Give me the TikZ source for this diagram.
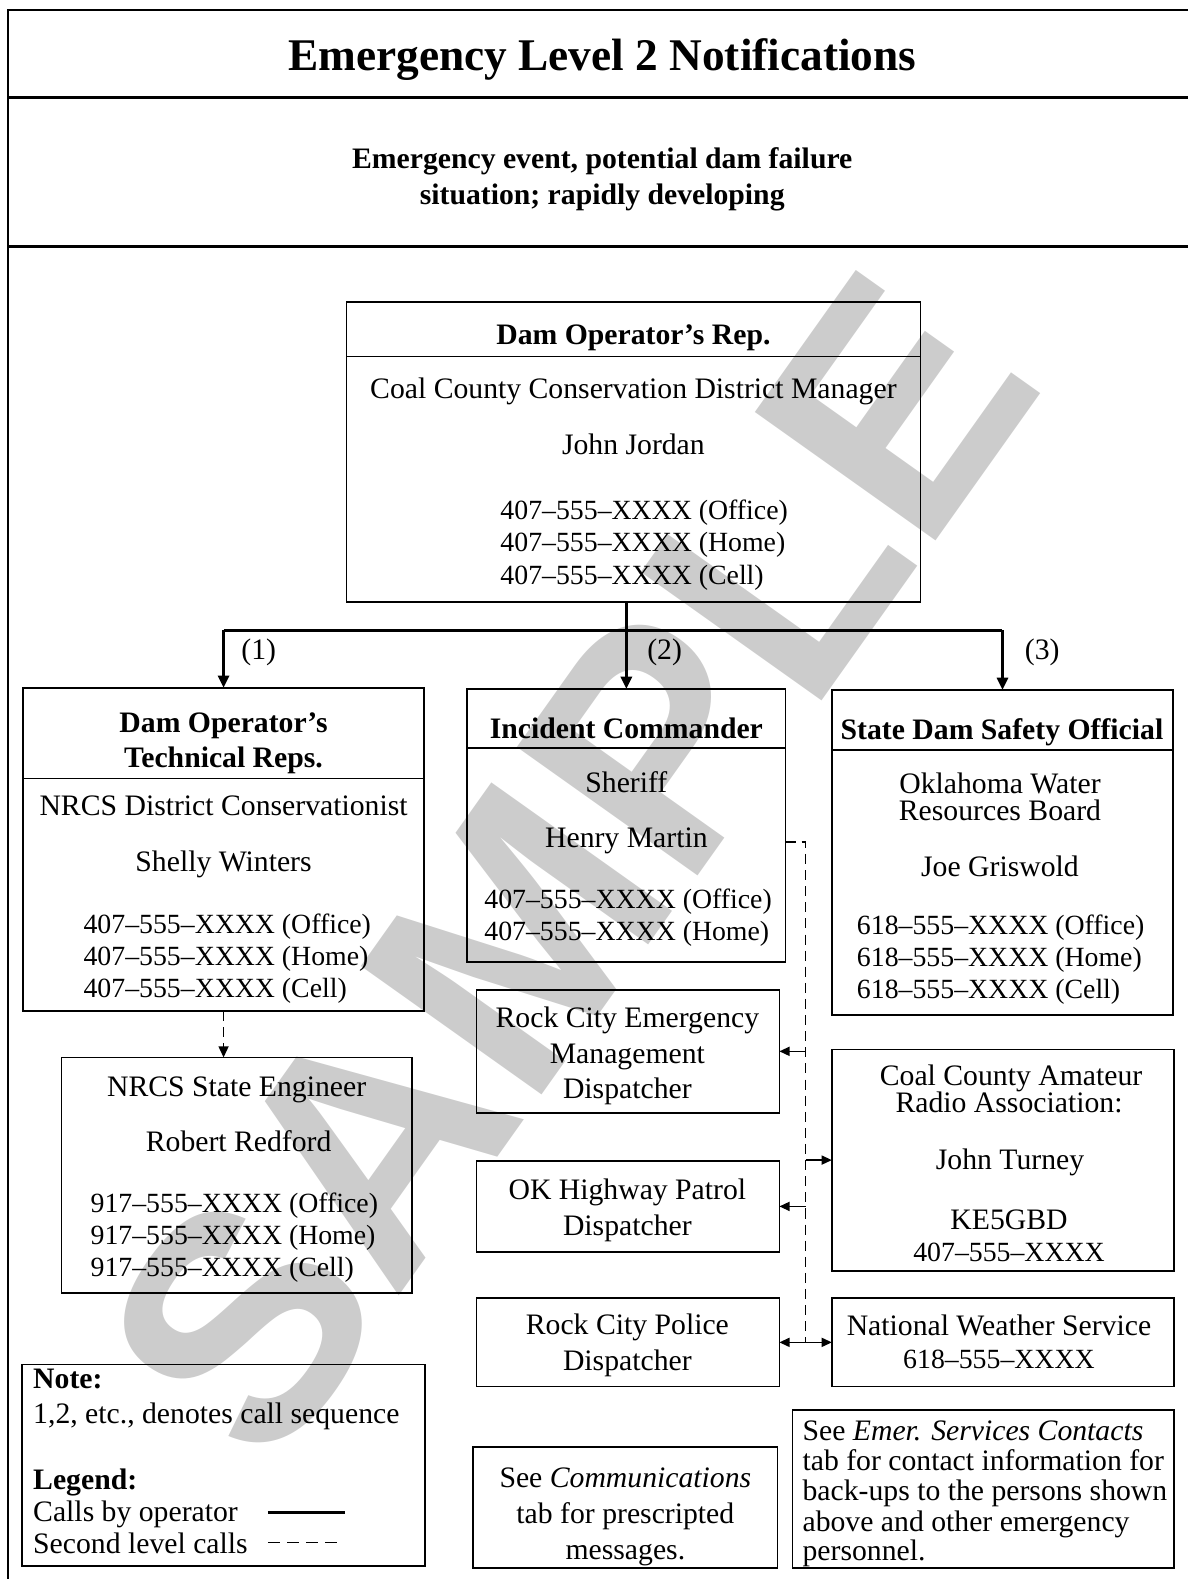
\documentclass[tikz,border=0pt]{standalone}
\usepackage{fontspec}
\setmainfont{Liberation Serif}
\newfontfamily\markfont{Liberation Sans}
\usetikzlibrary{arrows.meta}

% a box from its corners: name, x1, y1, x2, y2
\newcommand\boxat[5]{%
  \node[box, minimum width={(#4-#2)*1pt}, minimum height={(#5-#3)*1pt}]
    (#1) at ({(#2+#4)/2},{(#3+#5)/2}) {};}

\tikzset{
  every node/.style={inner sep=0pt, outer sep=0pt},
  box/.style={draw, line width=1.6pt, rectangle},
  body/.style={font=\fontsize{29.5}{32}\selectfont},
  txt/.style={body, anchor=base},
  ltxt/.style={body, anchor=base west},
  phone/.style={anchor=base west, font=\fontsize{27.6}{32}\selectfont},
  cphone/.style={anchor=base, font=\fontsize{27.6}{32}\selectfont},
  head/.style={anchor=base, font=\fontsize{29.5}{32}\selectfont\bfseries},
  lhead/.style={anchor=base west, font=\fontsize{29.5}{32}\selectfont\bfseries},
  rule/.style={line width=1.6pt},
  frame/.style={line width=2.6pt},
  calltip/.style={-{Triangle[length=12pt,width=11pt]}},
  call/.style={line width=2.6pt},
  second/.style={line width=1.4pt, dash pattern=on 10pt off 6pt},
  stub/.style={line width=1.3pt, -{Triangle[length=10pt,width=9pt]}},
}

\begin{document}
\begin{tikzpicture}[x=1pt, y=-1pt]
\useasboundingbox (0,0) rectangle (1180,1568);

% watermark
\node[font=\fontsize{320}{320}\selectfont\markfont\bfseries, text=black!20,
      rotate=54.6] (mark) at (565,860) {SAMPLE};

% page frame
\draw[frame] (8,1568) -- (8,10) -- (1180,10);
\draw[frame] (8,97) -- (1180,97);
\draw[frame] (8,245) -- (1180,245);

\node[anchor=base, font=\fontsize{45}{50}\selectfont\bfseries] (title) at (598,70)
  {Emergency Level 2 Notifications};
\node[head] (sub1) at (598,167) {Emergency event, potential dam failure};
\node[head] (sub2) at (598,203) {situation; rapidly developing};

% boxes
\boxat{top}{344}{300}{914}{598}
\boxat{tech}{23}{683}{421}{1004}
\boxat{eng}{61}{1050}{409}{1284}
\boxat{inc}{464}{684}{780}{955}
\boxat{em}{473}{983}{774}{1105}
\boxat{hp}{473}{1153}{774}{1243}
\boxat{police}{473}{1289}{774}{1377}
\boxat{state}{826}{685}{1165}{1008}
\boxat{ham}{826}{1042}{1166}{1262}
\boxat{nws}{826}{1289}{1166}{1377}
\boxat{note}{22}{1355}{422}{1555}
\boxat{comm}{470}{1437}{772}{1557}
\boxat{emer}{787}{1400}{1166}{1557}

% header dividers
\draw[rule] ([yshift=-54pt]top.north west) -- ([yshift=-54pt]top.north east);
\draw[rule] ([yshift=-90pt]tech.north west) -- ([yshift=-90pt]tech.north east);
\draw[rule] ([yshift=-59pt]inc.north west) -- ([yshift=-59pt]inc.north east);
\draw[rule] ([yshift=-60pt]state.north west) -- ([yshift=-60pt]state.north east);

% Dam Operator's Rep.
\node[head] (topH) at (629,342) {Dam Operator’s Rep.};
\node[txt] (topA) at (629,396) {Coal County Conservation District Manager};
\node[txt] (topB) at (629,451) {John Jordan};
\node[phone] (topC) at (497,516) {407–555–XXXX (Office)};
\node[phone] (topD) at (497,548) {407–555–XXXX (Home)};
\node[phone] (topE) at (497,580) {407–555–XXXX (Cell)};

% Technical reps
\node[head] (techH1) at (222,727) {Dam Operator’s};
\node[head] (techH2) at (222,762) {Technical Reps.};
\node[txt] (techA) at (222,810) {NRCS District Conservationist};
\node[txt] (techB) at (222,865) {Shelly Winters};
\node[phone] (techC) at (83,927) {407–555–XXXX (Office)};
\node[phone] (techD) at (83,959) {407–555–XXXX (Home)};
\node[phone] (techE) at (83,991) {407–555–XXXX (Cell)};

% State engineer
\node[txt] (engA) at (235,1089) {NRCS State Engineer};
\node[txt] (engB) at (237,1143) {Robert Redford};
\node[phone] (engC) at (90,1204) {917–555–XXXX (Office)};
\node[phone] (engD) at (90,1236) {917–555–XXXX (Home)};
\node[phone] (engE) at (90,1268) {917–555–XXXX (Cell)};

% Incident commander
\node[head] (incH) at (622,733) {Incident Commander};
\node[txt] (incA) at (622,787) {Sheriff};
\node[txt] (incB) at (622,842) {Henry Martin};
\node[phone] (incC) at (481,902) {407–555–XXXX (Office)};
\node[phone] (incD) at (481,934) {407–555–XXXX (Home)};

% dispatchers
\node[txt] (emA) at (623,1020) {Rock City Emergency};
\node[txt] (emB) at (623,1056) {Management};
\node[txt] (emC) at (623,1091) {Dispatcher};
\node[txt] (hpA) at (623,1191) {OK Highway Patrol};
\node[txt] (hpB) at (623,1227) {Dispatcher};
\node[txt] (polA) at (623,1325) {Rock City Police};
\node[txt] (polB) at (623,1361) {Dispatcher};

% State dam safety official
\node[head] (stateH) at (995,734) {State Dam Safety Official};
\node[txt] (stateA) at (993,788) {Oklahoma Water};
\node[txt] (stateB) at (993,815) {Resources Board};
\node[txt] (stateC) at (993,870) {Joe Griswold};
\node[phone] (stateD) at (851,928) {618–555–XXXX (Office)};
\node[phone] (stateE) at (851,960) {618–555–XXXX (Home)};
\node[phone] (stateF) at (851,992) {618–555–XXXX (Cell)};

% amateur radio
\node[txt] (hamA) at (1004,1078) {Coal County Amateur};
\node[txt] (hamB) at (1002,1105) {Radio Association:};
\node[txt] (hamC) at (1003,1161) {John Turney};
\node[txt] (hamD) at (1002,1221) {KE5GBD};
\node[cphone] (hamE) at (1002,1253) {407–555–XXXX};

% weather service
\node[txt] (nwsA) at (992,1326) {National Weather Service};
\node[cphone] (nwsB) at (992,1359) {618–555–XXXX};

% note and legend
\node[lhead] (noteH) at (33,1379) {Note:};
\node[ltxt] (noteA) at (33,1414) {1,2, etc., denotes call sequence};
\node[lhead] (legH) at (33,1479) {Legend:};
\node[ltxt] (legA) at (33,1511) {Calls by operator};
\node[ltxt] (legB) at (33,1543) {Second level calls};
\draw[call] (266,1502) -- (343,1502);
\draw[second, dash pattern=on 12pt off 7pt] (266,1532) -- (335,1532);

% reference notes
\node[txt] (commA) at (621,1477) {See \textit{Communications}};
\node[txt] (commB) at (621,1513) {tab for prescripted};
\node[txt] (commC) at (621,1549) {messages.};
\node[ltxt] (emerA) at (797,1430) {See \textit{Emer. Services Contacts}};
\node[ltxt] (emerB) at (797,1460) {tab for contact information for};
\node[ltxt] (emerC) at (797,1490) {back-ups to the persons shown};
\node[ltxt] (emerD) at (797,1521) {above and other emergency};
\node[ltxt] (emerE) at (797,1550) {personnel.};

% first level calls
\coordinate (bus) at (623,626);
\draw[call, calltip] (inc.north |- top.south) -- (inc.north);
\draw[call] (tech.north |- bus) -- (state.north |- bus);
\draw[call, calltip] (tech.north |- bus) -- (tech.north);
\draw[call, calltip] (state.north |- bus) -- (state.north);
\node[txt] (seq1) at (257,655) {(1)};
\node[txt] (seq2) at (660,655) {(2)};
\node[txt] (seq3) at (1035,655) {(3)};

% second level calls
\draw[second, -{Triangle[length=11pt,width=10pt]}] (tech.south) -- (tech.south |- eng.north);
\coordinate (trunk) at (800,836);
\coordinate (trunkend) at (800,1333);
\draw[second] (inc.east |- trunk) -- (trunk) -- (trunkend);
\draw[stub] (trunk |- em.east) -- (em.east);
\draw[stub] (trunk |- ham.west) -- (ham.west);
\draw[stub] (trunk |- hp.east) -- (hp.east);
\draw[stub] (trunkend) -- (police.east);
\draw[stub] (trunkend) -- (nws.west);
\end{tikzpicture}
\end{document}
